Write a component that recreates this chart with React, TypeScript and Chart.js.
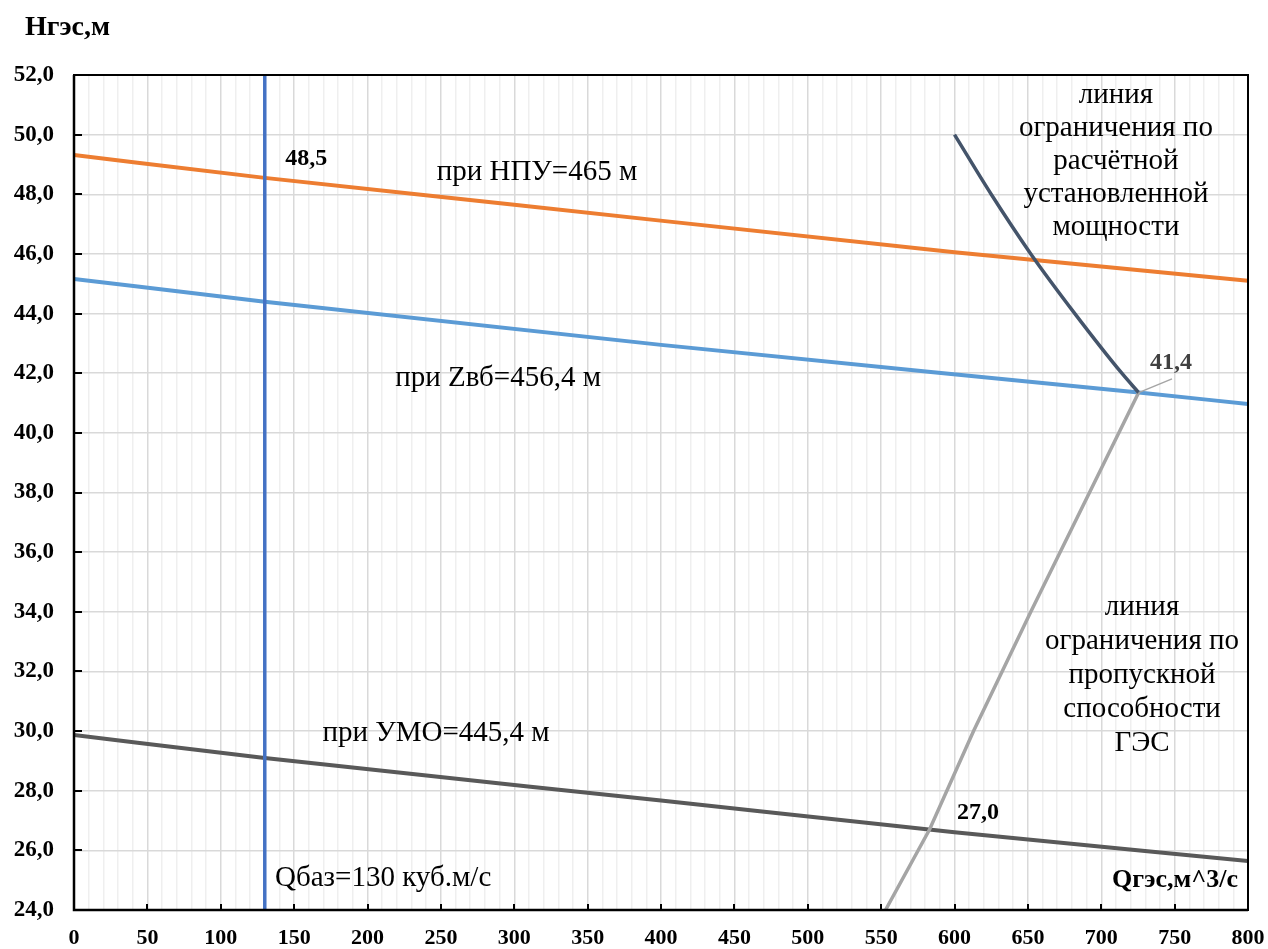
import React, { useEffect, useRef } from "react";
import { Chart, registerables } from "chart.js";
Chart.register(...registerables);

// Axis ranges / ticks
const X_MIN = 0;
const X_MAX = 800;
const X_MAJOR = 50;
const X_MINOR = 10;
const Y_MIN = 24;
const Y_MAX = 52;
const Y_STEP = 2;

// Series: H at НПУ=465 м
const npuQ = [0, 130, 300, 600, 800];
const npuH = [49.32, 48.55, 47.65, 46.06, 45.1];
// Series: H at Zвб=456,4 м
const zvbQ = [0, 130, 400, 725.5, 800];
const zvbH = [45.16, 44.4, 42.95, 41.35, 40.97];
// Series: H at УМО=445,4 м
const umoQ = [0, 130, 400, 600, 800];
const umoH = [29.87, 29.1, 27.67, 26.61, 25.64];
// Limit by installed capacity
const powQ = [600, 625, 652, 682, 714, 725.5];
const powH = [50.0, 48.0, 46.0, 44.0, 42.0, 41.35];
// Limit by discharge capacity
const capQ = [553, 583, 613, 652, 692, 725.5];
const capH = [24.0, 26.7, 30.0, 34.0, 38.0, 41.35];
// Base discharge
const baseQ = [130, 130];
const baseH = [24, 52];

const SERIF = "'Liberation Serif', 'Times New Roman', serif";

const pts = (xs: number[], ys: number[]) => xs.map((x, i) => ({ x, y: ys[i] }));
const fmt = (v: number) => v.toFixed(1).replace(".", ",");

export default function App() {
  const ref = useRef<HTMLCanvasElement>(null);

  useEffect(() => {
    document.body.style.margin = "0";
    const canvas = ref.current!;

    const overlay = {
      id: "overlay",
      afterDraw(chart: any) {
        const { ctx, chartArea: a, scales } = chart;
        const xs = scales.x;
        const ys = scales.y;
        const X = (v: number) => xs.getPixelForValue(v);
        const Y = (v: number) => ys.getPixelForValue(v);
        ctx.save();
        // frame
        ctx.strokeStyle = "#000";
        ctx.lineWidth = 2;
        ctx.strokeRect(a.left, a.top, a.right - a.left, a.bottom - a.top);
        ctx.lineWidth = 2.5;
        ctx.beginPath();
        ctx.moveTo(a.left, a.top);
        ctx.lineTo(a.left, a.bottom);
        ctx.lineTo(a.right, a.bottom);
        ctx.stroke();
        // inside ticks
        ctx.lineWidth = 2;
        ctx.beginPath();
        for (let v = X_MIN; v <= X_MAX; v += X_MAJOR) {
          const px = Math.round(X(v));
          ctx.moveTo(px, a.bottom);
          ctx.lineTo(px, a.bottom - 6);
        }
        for (let v = Y_MIN; v <= Y_MAX; v += Y_STEP) {
          const py = Math.round(Y(v));
          ctx.moveTo(a.left, py);
          ctx.lineTo(a.left + 8, py);
        }
        ctx.stroke();

        // leader line for 41,4
        ctx.strokeStyle = "#A5A5A5";
        ctx.lineWidth = 1.5;
        ctx.beginPath();
        ctx.moveTo(X(725.5), Y(41.35));
        ctx.lineTo(X(748.2), Y(41.81));
        ctx.stroke();

        ctx.textBaseline = "middle";
        const txt = (s: string, x: number, y: number, align: CanvasTextAlign, font: string, color = "#000") => {
          ctx.font = font;
          ctx.textAlign = align;
          ctx.fillStyle = color;
          ctx.fillText(s, x, y);
        };
        const reg = `29px ${SERIF}`;
        const bold = `bold 24px ${SERIF}`;

        // axis titles
        txt("Нгэс,м", 25, 28, "left", `bold 28px ${SERIF}`);
        txt("Qгэс,м^3/с", a.right - 10, Y(25.0), "right", `bold 26px ${SERIF}`);

        // value labels
        txt("48,5", X(144), Y(49.2), "left", bold);
        txt("41,4", X(747.5), Y(42.34), "center", bold, "#404040");
        txt("27,0", X(601.7), Y(27.25), "left", bold);

        // series labels
        txt("при НПУ=465 м", X(315.5), Y(48.75), "center", reg);
        txt("при Zвб=456,4 м", X(289), Y(41.84), "center", reg);
        txt("при УМО=445,4 м", X(246.7), Y(29.93), "center", reg);
        txt("Qбаз=130 куб.м/с", X(137), Y(25.07), "left", reg);

        const block1 = ["линия", "ограничения по", "расчётной", "установленной", "мощности"];
        block1.forEach((s, i) => txt(s, X(710), Y(51.33) + i * 33, "center", reg));
        const block2 = ["линия", "ограничения по", "пропускной", "способности", "ГЭС"];
        block2.forEach((s, i) => txt(s, X(727.8), Y(34.16) + i * 34, "center", reg));

        ctx.restore();
      },
    };

    const line = (data: any, color: string, width: number, tension = 0) => ({
      data,
      borderColor: color,
      backgroundColor: color,
      borderWidth: width,
      pointRadius: 0,
      showLine: true,
      tension,
      cubicInterpolationMode: tension ? "monotone" : "default",
      fill: false,
    });

    const chart = new Chart(canvas, {
      type: "scatter",
      data: {
        datasets: [
          line(pts(baseQ, baseH), "#4472C4", 3.5),
          line(pts(powQ, powH), "#44546A", 3.5, 0.4),
          line(pts(capQ, capH), "#A5A5A5", 3.5),
          line(pts(npuQ, npuH), "#ED7D31", 4, 0.4),
          line(pts(zvbQ, zvbH), "#5B9BD5", 4, 0.4),
          line(pts(umoQ, umoH), "#595959", 4, 0.4),
        ] as any,
      },
      options: {
        animation: false,
        responsive: false,
        devicePixelRatio: 1,
        layout: { padding: { top: 75, right: 20, left: 0, bottom: 0 } },
        plugins: { legend: { display: false }, tooltip: { enabled: false }, title: { display: false } },
        scales: {
          x: {
            type: "linear",
            min: X_MIN,
            max: X_MAX,
            border: { display: false },
            grid: {
              drawTicks: false,
              color: (c: any) => (c.tick && c.tick.value % X_MAJOR === 0 ? "#D9D9D9" : "#EFEFEF"),
              lineWidth: 1.5,
            },
            ticks: {
              stepSize: X_MINOR,
              autoSkip: false,
              maxRotation: 0,
              padding: 15,
              color: "#000",
              font: { family: SERIF, size: 22, weight: "bold" },
              callback: (v: any) => (Number(v) % X_MAJOR === 0 ? String(v) : ""),
            },
            afterFit: (s: any) => {
              s.height = 39;
              s.paddingRight = 0;
              s.paddingLeft = 0;
            },
          },
          y: {
            type: "linear",
            min: Y_MIN,
            max: Y_MAX,
            border: { display: false },
            grid: { drawTicks: false, color: "#D9D9D9", lineWidth: 1.5 },
            ticks: {
              stepSize: Y_STEP,
              padding: 20,
              color: "#000",
              font: { family: SERIF, size: 23, weight: "bold" },
              callback: (v: any) => fmt(Number(v)),
            },
            afterFit: (s: any) => {
              s.width = 74;
              s.paddingTop = 0;
              s.paddingBottom = 0;
            },
          },
        },
      } as any,
      plugins: [overlay],
    });
    return () => chart.destroy();
  }, []);

  return (
    <canvas
      ref={ref}
      width={1268}
      height={949}
      style={{ display: "block", width: 1268, height: 949 }}
    />
  );
}
